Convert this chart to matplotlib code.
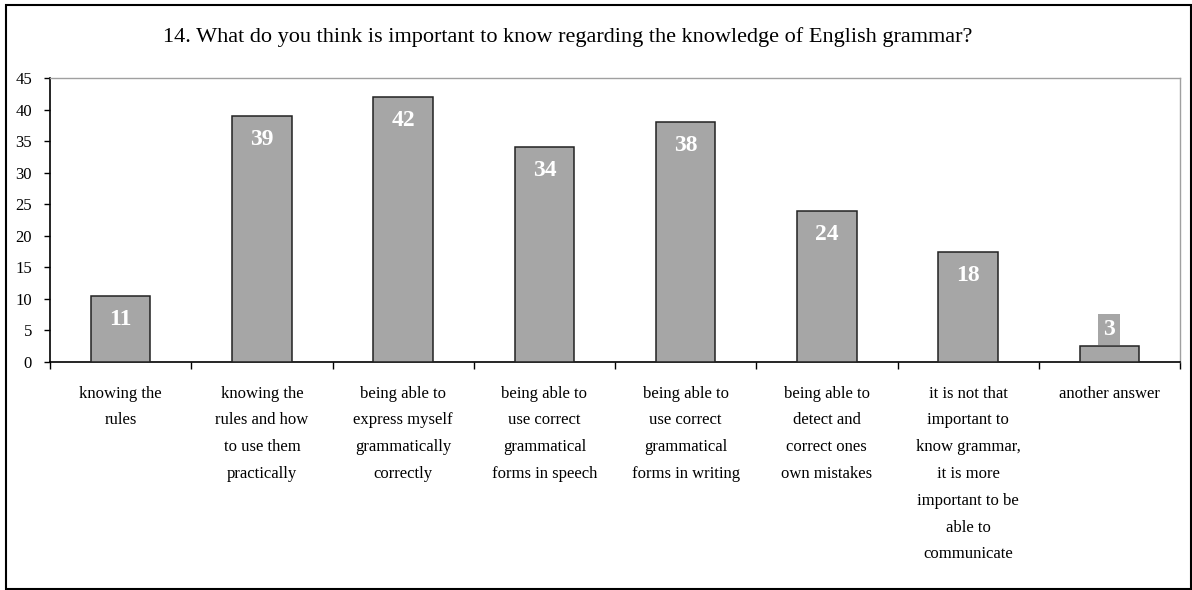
import matplotlib
matplotlib.use("Agg")
import matplotlib.pyplot as plt
from matplotlib.patches import Rectangle

plt.rcParams['font.family'] = ['Liberation Serif', 'DejaVu Serif']

title = "14. What do you think is important to know regarding the knowledge of English grammar?"
categories = [
    "knowing the\nrules",
    "knowing the\nrules and how\nto use them\npractically",
    "being able to\nexpress myself\ngrammatically\ncorrectly",
    "being able to\nuse correct\ngrammatical\nforms in speech",
    "being able to\nuse correct\ngrammatical\nforms in writing",
    "being able to\ndetect and\ncorrect ones\nown mistakes",
    "it is not that\nimportant to\nknow grammar,\nit is more\nimportant to be\nable to\ncommunicate",
    "another answer",
]
values = [10.5, 39, 42, 34, 38, 24, 17.5, 2.5]
labels = ["11", "39", "42", "34", "38", "24", "18", "3"]
yticks = [0, 5, 10, 15, 20, 25, 30, 35, 40, 45]

W, H = 1192, 590
fig = plt.figure(figsize=(W / 100, H / 100), dpi=100)
ax = fig.add_axes([50 / W, 1 - 362 / H, (1180 - 50) / W, (362 - 78) / H])

bar_color = "#a6a6a6"
x = list(range(len(values)))
bars = ax.bar(x, values, width=0.42, color=bar_color, edgecolor="#222222", linewidth=1.1, zorder=3)

ax.set_xlim(-0.5, len(values) - 0.5)
ax.set_ylim(0, 45)
ax.set_yticks(yticks)
ax.set_yticklabels([str(t) for t in yticks], fontsize=12)
ax.tick_params(axis='y', direction='out', length=4, width=1, pad=9, colors='black')

# category boundary ticks
ax.set_xticks([i - 0.5 for i in range(len(values) + 1)])
ax.set_xticklabels([""] * (len(values) + 1))
ax.tick_params(axis='x', which='major', direction='out', length=5, width=1)
ax.set_xticks(x, minor=True)
ax.set_xticklabels(categories, minor=True, fontsize=12, linespacing=1.9, va='top')
ax.tick_params(axis='x', which='minor', length=0, pad=17)

for s in ['left', 'bottom']:
    ax.spines[s].set_color('black')
    ax.spines[s].set_linewidth(1.2)
for s in ['top', 'right']:
    ax.spines[s].set_color('#a0a0a0')
    ax.spines[s].set_linewidth(1.0)

px_per_unit = (362 - 78) / 45.0
for xi, v, lab in zip(x, values, labels):
    if v * px_per_unit > 45:
        ax.annotate(lab, (xi, v), xytext=(0, -23.5), textcoords='offset pixels',
                    ha='center', va='center', color='white', fontsize=17,
                    fontweight='bold', zorder=5)
    else:
        ax.annotate(lab, (xi, v), xytext=(0, 6), textcoords='offset pixels',
                    ha='center', va='bottom', color='white', fontsize=17,
                    fontweight='bold', zorder=5,
                    bbox=dict(boxstyle='square,pad=0.22', fc=bar_color, ec='none'))

fig.text(568 / W, 1 - 37 / H, title, ha='center', va='center', fontsize=16)

fig.patches.append(Rectangle((6 / W, 1 / H), (W - 7) / W, (H - 6) / H,
                             transform=fig.transFigure, fill=False,
                             edgecolor='black', linewidth=1.5))

fig.savefig("out.png", dpi=100)
